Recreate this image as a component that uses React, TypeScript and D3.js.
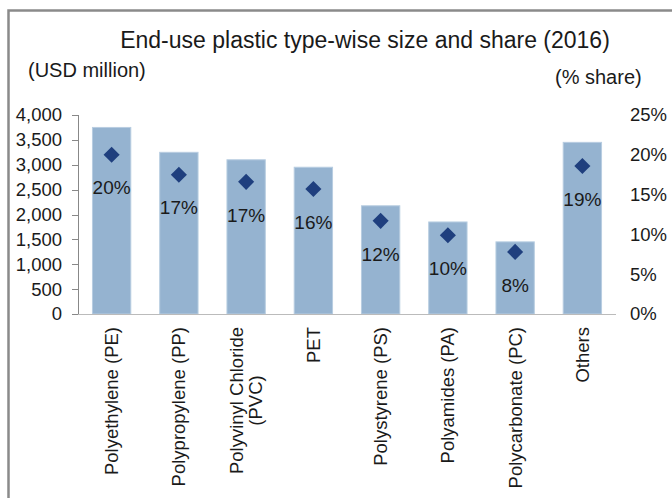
import React, { useEffect, useRef } from "react";
import * as d3 from "d3";

const categories = [
  ["Polyethylene (PE)"],
  ["Polypropylene (PP)"],
  ["Polyvinyl Chloride", "(PVC)"],
  ["PET"],
  ["Polystyrene (PS)"],
  ["Polyamides (PA)"],
  ["Polycarbonate (PC)"],
  ["Others"],
];
const sizeValues = [3750, 3250, 3100, 2950, 2175, 1850, 1450, 3450];
const shareValues = [20.0, 17.5, 16.6, 15.7, 11.7, 9.9, 7.8, 18.6];
const shareLabels = ["20%", "17%", "17%", "16%", "12%", "10%", "8%", "19%"];
const leftTicks = [0, 500, 1000, 1500, 2000, 2500, 3000, 3500, 4000];
const rightTicks = [0, 5, 10, 15, 20, 25];

const W = 672;
const H = 498;
const FONT = "Liberation Sans, Arial, sans-serif";
const TXT = "#1a1a1a";

export default function App() {
  const ref = useRef<SVGSVGElement | null>(null);

  useEffect(() => {
    const svg = d3.select(ref.current);
    svg.selectAll("*").remove();

    const x0 = 78, x1 = 616, yTop = 115, yBot = 314;
    const idx = categories.map((_, i) => String(i));
    const x = d3.scaleBand<string>().domain(idx).range([x0, x1]).paddingInner(0.43).paddingOuter(0.215);
    const yL = d3.scaleLinear().domain([0, 4000]).range([yBot, yTop]);
    const yR = d3.scaleLinear().domain([0, 25]).range([yBot, yTop]);

    // frame
    svg.append("path").attr("d", `M8.5,${H} L8.5,10.5 L${W},10.5`).attr("fill", "none").attr("stroke", "#8a8a8a").attr("stroke-width", 2.5);

    // title
    svg.append("text").attr("x", 365).attr("y", 48).attr("text-anchor", "middle").attr("font-family", FONT).attr("font-size", 23).attr("fill", TXT).text("End-use plastic type-wise size and share (2016)");
    svg.append("text").attr("x", 28).attr("y", 77).attr("font-family", FONT).attr("font-size", 20).attr("fill", TXT).text("(USD million)");
    svg.append("text").attr("x", 555).attr("y", 84).attr("font-family", FONT).attr("font-size", 20).attr("fill", TXT).text("(% share)");

    // bars
    svg.append("g").selectAll("rect").data(sizeValues).join("rect")
      .attr("x", (_, i) => x(String(i))!)
      .attr("width", x.bandwidth())
      .attr("y", (d) => yL(d))
      .attr("height", (d) => yBot - yL(d))
      .attr("fill", "#95b3d0")
      .attr("stroke", "#b8cde1")
      .attr("stroke-width", 1);

    // left axis
    const gL = svg.append("g").attr("transform", `translate(${x0},0)`);
    gL.append("line").attr("x1", 0.5).attr("x2", 0.5).attr("y1", yTop).attr("y2", yBot).attr("stroke", "#888");
    leftTicks.forEach((t) => {
      gL.append("line").attr("x1", -6).attr("x2", 0.5).attr("y1", Math.round(yL(t)) + 0.5).attr("y2", Math.round(yL(t)) + 0.5).attr("stroke", "#888");
      gL.append("text").attr("x", -16).attr("y", yL(t)).attr("dy", "0.35em").attr("text-anchor", "end")
        .attr("font-family", FONT).attr("font-size", 18.5).attr("fill", TXT).text(d3.format(",")(t));
    });

    // x axis line
    svg.append("line").attr("x1", x0).attr("x2", x1).attr("y1", yBot + 0.5).attr("y2", yBot + 0.5).attr("stroke", "#bbb");

    // right axis labels
    rightTicks.forEach((t) => {
      svg.append("text").attr("x", 630).attr("y", yR(t)).attr("dy", "0.35em")
        .attr("font-family", FONT).attr("font-size", 18.5).attr("fill", TXT).text(`${t}%`);
    });

    // diamonds
    const sym = d3.symbol().type(d3.symbolDiamond2).size(165);
    svg.append("g").selectAll("path").data(shareValues).join("path")
      .attr("d", sym as any)
      .attr("transform", (d, i) => `translate(${x(String(i))! + x.bandwidth() / 2},${yR(d)})`)
      .attr("fill", "#1f3f7e");

    // data labels
    svg.append("g").selectAll("text").data(shareLabels).join("text")
      .attr("x", (_, i) => x(String(i))! + x.bandwidth() / 2)
      .attr("y", (_, i) => yR(shareValues[i]) + 33)
      .attr("dy", "0.35em")
      .attr("text-anchor", "middle")
      .attr("font-family", FONT).attr("font-size", 19).attr("fill", TXT)
      .text((d) => d);

    // category labels
    categories.forEach((lines, i) => {
      const cx = x(String(i))! + x.bandwidth() / 2;
      const g = svg.append("g").attr("transform", `translate(${cx},327) rotate(-90)`);
      const texts = lines.map((ln) =>
        g.append("text").attr("font-family", FONT).attr("font-size", 18.5).attr("fill", TXT).text(ln)
      );
      const widths = texts.map((t) => (t.node() as SVGTextElement).getComputedTextLength());
      const maxW = Math.max(...widths);
      const lh = 19;
      const n = lines.length;
      texts.forEach((t, j) => {
        t.attr("text-anchor", "middle")
          .attr("x", -maxW / 2)
          .attr("y", (j - (n - 1) / 2) * lh)
          .attr("dy", "0.35em");
      });
    });
  }, []);

  return (
    <svg ref={ref} width={W} height={H} style={{ position: "absolute", left: 0, top: 0, background: "#fff" }} />
  );
}
